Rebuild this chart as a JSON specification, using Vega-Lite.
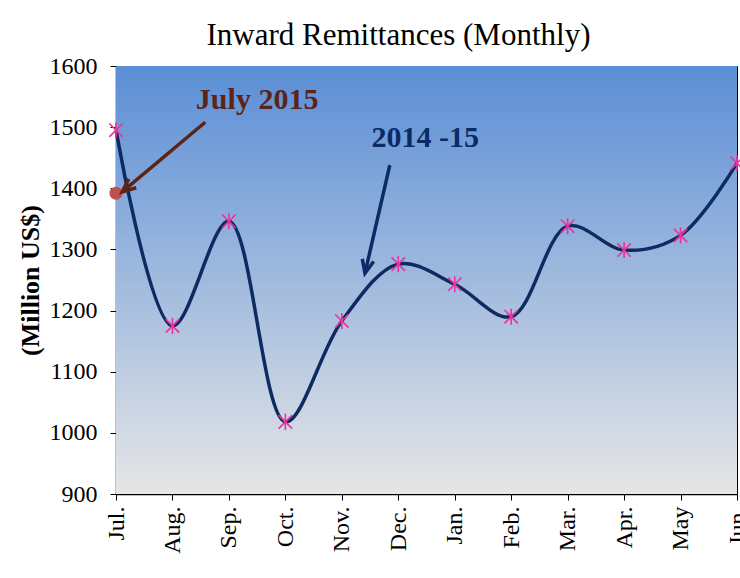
{
  "$schema": "https://vega.github.io/schema/vega-lite/v6.json",
  "autosize": "none",
  "width": 621,
  "height": 428,
  "padding": {"left": 116, "top": 66, "right": 3, "bottom": 84},
  "background": "white",
  "config": {
    "view": {"stroke": "black", "strokeWidth": 1},
    "font": "Liberation Serif, Times New Roman, DejaVu Serif, serif"
  },
  "title": {
    "text": "Inward Remittances (Monthly)",
    "font": "Liberation Serif, Times New Roman, DejaVu Serif, serif",
    "fontSize": 31,
    "fontWeight": "normal",
    "color": "black",
    "anchor": "middle",
    "dx": -28,
    "offset": 2
  },
  "datasets": {
    "series": [
      {"i": 0, "month": "Jul.", "value": 1495},
      {"i": 1, "month": "Aug.", "value": 1175},
      {"i": 2, "month": "Sep.", "value": 1346},
      {"i": 3, "month": "Oct.", "value": 1018},
      {"i": 4, "month": "Nov.", "value": 1183},
      {"i": 5, "month": "Dec.", "value": 1276},
      {"i": 6, "month": "Jan.", "value": 1243},
      {"i": 7, "month": "Feb.", "value": 1190},
      {"i": 8, "month": "Mar.", "value": 1338},
      {"i": 9, "month": "Apr.", "value": 1299},
      {"i": 10, "month": "May", "value": 1323},
      {"i": 11, "month": "Jun.", "value": 1441}
    ],
    "july2015": [{"i": 0, "value": 1392}],
    "arrows": [
      {"x": 1.58, "y": 1508, "x2": 0.11, "y2": 1394, "angle": 230, "color": "#5c2418"},
      {"x": 4.85, "y": 1438, "x2": 4.41, "y2": 1261, "angle": 193, "color": "#0c2a66"}
    ],
    "labels": [
      {"x": 2.5, "y": 1544, "text": "July 2015", "color": "#5c2418"},
      {"x": 5.48, "y": 1483, "text": "2014 -15", "color": "#0c2a66"}
    ]
  },
  "layer": [
    {
      "data": {"values": [{}]},
      "mark": {
        "type": "rect",
        "fill": {
          "gradient": "linear",
          "x1": 0, "y1": 0, "x2": 0, "y2": 1,
          "stops": [
            {"offset": 0, "color": "#5a8ed6"},
            {"offset": 1, "color": "#e6e6e6"}
          ]
        }
      },
      "encoding": {
        "x": {"datum": 0, "type": "quantitative"},
        "x2": {"datum": 11},
        "y": {"datum": 900, "type": "quantitative"},
        "y2": {"datum": 1600}
      }
    },
    {
      "data": {"name": "series"},
      "mark": {"type": "line", "interpolate": "catmull-rom", "color": "#0d2b62", "strokeWidth": 3.5},
      "encoding": {
        "x": {
          "field": "i", "type": "quantitative",
          "scale": {"domain": [0, 11], "nice": false, "zero": false},
          "axis": {
            "title": null,
            "values": [0,1,2,3,4,5,6,7,8,9,10,11],
            "labelExpr": "['Jul.','Aug.','Sep.','Oct.','Nov.','Dec.','Jan.','Feb.','Mar.','Apr.','May','Jun.'][datum.value]",
            "labelAngle": -90,
            "labelFont": "Liberation Serif, Times New Roman, DejaVu Serif, serif",
            "labelFontSize": 24,
            "labelColor": "black",
            "labelPadding": 6,
            "labelFlush": false,
            "labelOverlap": false,
            "labelBound": false,
            "grid": false,
            "domainColor": "black",
            "domainWidth": 1.5,
            "tickColor": "black",
            "tickSize": 6
          }
        },
        "y": {
          "field": "value", "type": "quantitative",
          "scale": {"domain": [900, 1600], "nice": false, "zero": false},
          "axis": {
            "title": "(Million US$)",
            "titleFont": "Liberation Serif, Times New Roman, DejaVu Serif, serif",
            "titleFontSize": 26,
            "titleFontWeight": "bold",
            "titleColor": "black",
            "titlePadding": 6,
            "values": [900,1000,1100,1200,1300,1400,1500,1600],
            "format": "d",
            "labelFont": "Liberation Serif, Times New Roman, DejaVu Serif, serif",
            "labelFontSize": 24,
            "labelColor": "black",
            "labelPadding": 13,
            "labelFlush": false,
            "grid": false,
            "domainColor": "black",
            "domainWidth": 1.5,
            "tickColor": "black",
            "tickSize": 6
          }
        }
      }
    },
    {
      "data": {"name": "series"},
      "mark": {
        "type": "point",
        "shape": "M-1,-1L1,1M-1,1L1,-1M0,-1.2L0,1.2",
        "filled": false,
        "stroke": "#e8349c",
        "strokeWidth": 1.6,
        "size": 180,
        "opacity": 1
      },
      "encoding": {
        "x": {"field": "i", "type": "quantitative"},
        "y": {"field": "value", "type": "quantitative"}
      }
    },
    {
      "data": {"name": "july2015"},
      "mark": {"type": "circle", "color": "#c0504d", "size": 170, "opacity": 1},
      "encoding": {
        "x": {"field": "i", "type": "quantitative"},
        "y": {"field": "value", "type": "quantitative"}
      }
    },
    {
      "data": {"name": "arrows"},
      "mark": {"type": "rule", "strokeWidth": 3.5},
      "encoding": {
        "x": {"field": "x", "type": "quantitative"},
        "x2": {"field": "x2"},
        "y": {"field": "y", "type": "quantitative"},
        "y2": {"field": "y2"},
        "color": {"field": "color", "type": "nominal", "scale": null}
      }
    },
    {
      "data": {"name": "arrows"},
      "mark": {
        "type": "point",
        "shape": "M-0.65,1.5L0,0L0.65,1.5",
        "filled": false,
        "strokeWidth": 3.5,
        "size": 320,
        "opacity": 1
      },
      "encoding": {
        "x": {"field": "x2", "type": "quantitative"},
        "y": {"field": "y2", "type": "quantitative"},
        "angle": {"field": "angle", "type": "quantitative", "scale": null},
        "stroke": {"field": "color", "type": "nominal", "scale": null}
      }
    },
    {
      "data": {"name": "labels"},
      "mark": {"type": "text", "font": "Liberation Serif, Times New Roman, DejaVu Serif, serif", "fontSize": 30, "fontWeight": "bold", "align": "center", "baseline": "middle"},
      "encoding": {
        "x": {"field": "x", "type": "quantitative"},
        "y": {"field": "y", "type": "quantitative"},
        "text": {"field": "text"},
        "color": {"field": "color", "type": "nominal", "scale": null}
      }
    }
  ]
}
